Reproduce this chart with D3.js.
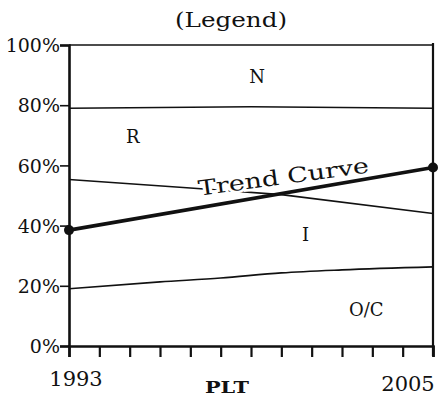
<!DOCTYPE html>
<html>
<head>
<meta charset="utf-8">
<script src="https://cdn.jsdelivr.net/npm/d3@7"></script>
<style>
  body { margin: 0; background: #fff; }
  svg text { font-family: "DejaVu Serif", serif; fill: #111; }
</style>
</head>
<body>
<div id="chart"></div>
<script>
// ---------- DATA ----------
const years = d3.range(1993, 2006);          // 1993..2005, one tick per year
const yTicks = [0, 20, 40, 60, 80, 100];

// band boundaries (percent)
const topLine = [[1993, 100], [2005, 100]];
const nrLine = [[1993, 79], [1999, 79.5], [2005, 79]];
const riLine = [[1993, 55.3], [1997, 52.5], [2000, 50.3], [2005, 44]];
const ioLine = [[1993, 19], [1996, 21.3], [1998, 22.6], [2000, 24.3], [2002, 25.3], [2005, 26.3]];
const trend = [[1993, 38.5], [2005, 59.3]];

const regionNames = ["N", "R", "I", "O/C"];
const regionAt = [[1999.2, 89.5], [1995.1, 69.5], [2000.8, 37], [2002.8, 12]];

// ---------- DRAW ----------
const W = 440, H = 404;
const svg = d3.select("#chart").append("svg")
  .attr("width", W).attr("height", H);

const x = d3.scaleLinear().domain([1993, 2005]).range([69, 433]);
const y = d3.scaleLinear().domain([0, 100]).range([346, 45]);

const line = d3.line().x(d => x(d[0])).y(d => y(d[1]));
const curve = d3.line().x(d => x(d[0])).y(d => y(d[1])).curve(d3.curveMonotoneX);

// thin boundaries
[topLine, nrLine, riLine].forEach(l => {
  svg.append("path").attr("d", line(l))
    .attr("fill", "none").attr("stroke", "#111").attr("stroke-width", 1.6);
});
svg.append("path").attr("d", curve(ioLine))
  .attr("fill", "none").attr("stroke", "#111").attr("stroke-width", 1.6);

// right border
svg.append("line")
  .attr("x1", x(2005)).attr("x2", x(2005))
  .attr("y1", y(100) - 2).attr("y2", y(0) + 10)
  .attr("stroke", "#111").attr("stroke-width", 2.2);

// ---------- AXES ----------
const yAxis = svg.append("g")
  .attr("transform", `translate(${x(1993)},0)`)
  .call(d3.axisLeft(y).tickValues(yTicks).tickSize(9).tickPadding(0)
    .tickFormat(d => d + "%"));
yAxis.select(".domain").attr("stroke", "#111").attr("stroke-width", 2.6);
yAxis.selectAll(".tick line").attr("stroke", "#111").attr("stroke-width", 1.6);
yAxis.selectAll(".tick text")
  .attr("font-family", "DejaVu Serif").attr("font-size", 19)
  .attr("fill", "#111").attr("dy", "0.35em");

const xAxis = svg.append("g")
  .attr("transform", `translate(0,${y(0)})`)
  .call(d3.axisBottom(x).tickValues(years).tickSize(11).tickFormat(""));
xAxis.select(".domain").attr("stroke", "#111").attr("stroke-width", 2.6);
xAxis.selectAll(".tick line").attr("stroke", "#111").attr("stroke-width", 2.2);

// ---------- TREND ----------
svg.append("path").attr("d", line(trend))
  .attr("fill", "none").attr("stroke", "#111").attr("stroke-width", 3.6);
svg.selectAll(".dot").data(trend).enter().append("circle")
  .attr("cx", d => x(d[0])).attr("cy", d => y(d[1])).attr("r", 5)
  .attr("fill", "#111");

const angle = Math.atan2(y(trend[1][1]) - y(trend[0][1]), x(trend[1][0]) - x(trend[0][0])) * 180 / Math.PI;
const tx = x(2000.1), ty = y(38.5 + (59.3 - 38.5) * 7.1 / 12) - 9;
svg.append("text")
  .attr("transform", `translate(${tx},${ty}) rotate(${angle + 2})`)
  .attr("text-anchor", "middle")
  .attr("font-size", 21)
  .attr("textLength", 172).attr("lengthAdjust", "spacingAndGlyphs")
  .attr("stroke", "#fff").attr("stroke-width", 5).attr("paint-order", "stroke")
  .text("Trend Curve");

// ---------- LABELS ----------
svg.selectAll(".region").data(regionNames).enter().append("text")
  .attr("x", (d, i) => x(regionAt[i][0]))
  .attr("y", (d, i) => y(regionAt[i][1]))
  .attr("dy", "0.35em")
  .attr("text-anchor", "middle")
  .attr("font-size", 18)
  .text(d => d);

svg.append("text").attr("x", 231).attr("y", 27)
  .attr("text-anchor", "middle").attr("font-size", 20)
  .attr("textLength", 112).attr("lengthAdjust", "spacingAndGlyphs")
  .text("(Legend)");

svg.append("text").attr("x", 227).attr("y", 393)
  .attr("text-anchor", "middle").attr("font-size", 17).attr("font-weight", "bold")
  .attr("textLength", 44).attr("lengthAdjust", "spacingAndGlyphs")
  .text("PLT");

svg.append("text").attr("x", 76).attr("y", 386)
  .attr("text-anchor", "middle").attr("font-size", 21)
  .text(years[0]);
svg.append("text").attr("x", 408).attr("y", 391)
  .attr("text-anchor", "middle").attr("font-size", 21)
  .text(years[years.length - 1]);
</script>
</body>
</html>
